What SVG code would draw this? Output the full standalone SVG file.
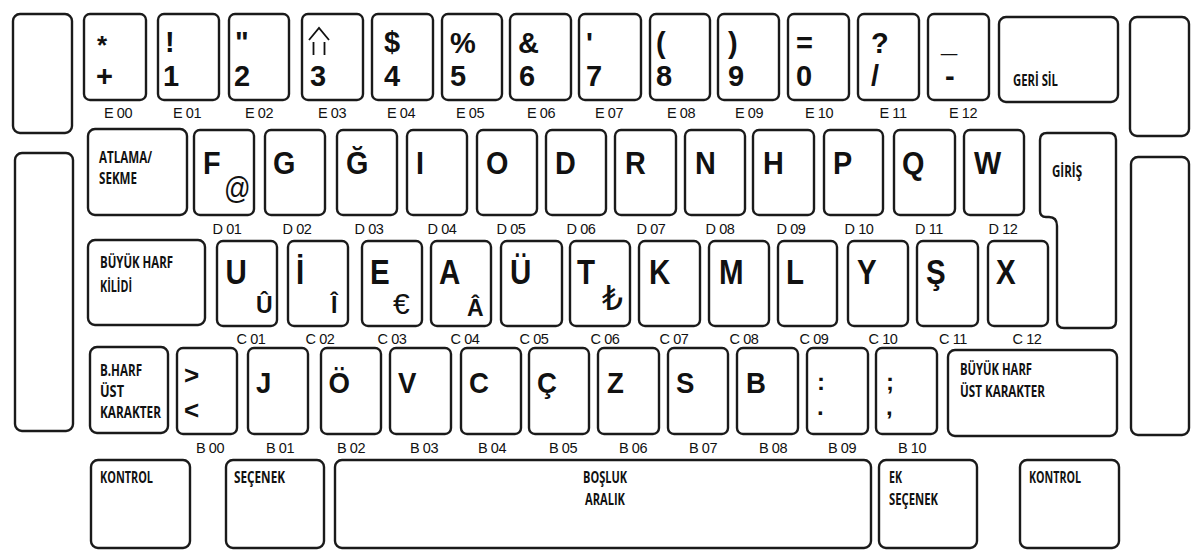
<svg xmlns="http://www.w3.org/2000/svg" width="1200" height="555" viewBox="0 0 1200 555">
<style>
.k{fill:#fff;stroke:#1a1a1a;stroke-width:2.4}
.L{font-family:"Liberation Sans",Arial,"DejaVu Sans",sans-serif;font-weight:bold;fill:#111}
.R{font-family:"Liberation Sans",Arial,"DejaVu Sans",sans-serif;font-weight:normal;fill:#111}
.e{font-size:29px}
.d{font-size:32px}
.c{font-size:36px}
.b{font-size:30px}
.s{font-size:23px}
.lbl{font-family:"Liberation Sans",Arial,sans-serif;font-size:14.5px;text-anchor:middle;fill:#111;letter-spacing:-0.4px}
.fn{font-family:"Open Sans","Liberation Sans",sans-serif;font-weight:bold;font-size:16px;fill:#111}
.ic{fill:none;stroke:#111;stroke-width:1.8}
</style>
<rect width="1200" height="555" fill="#fff"/>

<!-- side keys -->
<g id="left-top"><rect class="k" x="13" y="14" width="59" height="119" rx="7"/></g>
<g id="left-bottom"><rect class="k" x="15" y="153" width="58" height="278" rx="7"/></g>
<g id="right-top"><rect class="k" x="1130" y="17" width="59" height="119" rx="7"/></g>
<g id="right-bottom"><rect class="k" x="1131" y="157" width="58" height="278" rx="7"/></g>

<!-- Row E -->
<g id="e00"><rect class="k" x="84" y="14" width="62" height="86" rx="6"/><text class="L" style="font-size:26px" x="97" y="54">*</text><text class="L e" x="96" y="86">+</text><text class="lbl" x="118" y="118">E 00</text></g>
<g id="e01"><rect class="k" x="158" y="14" width="61" height="86" rx="6"/><text class="L e" x="165" y="52">!</text><text class="L e" x="163" y="86">1</text><text class="lbl" x="187" y="118">E 01</text></g>
<g id="e02"><rect class="k" x="229" y="14" width="60" height="86" rx="6"/><text class="L e" x="235" y="52">"</text><text class="L e" x="234" y="86">2</text><text class="lbl" x="259" y="118">E 02</text></g>
<g id="e03"><rect class="k" x="302" y="14" width="61" height="86" rx="6"/><path class="ic" d="M309,40 L319,28 L329,40 M313.5,42 V55 M324.5,42 V55"/><text class="L e" x="310" y="86">3</text><text class="lbl" x="332" y="118">E 03</text></g>
<g id="e04"><rect class="k" x="372" y="14" width="61" height="86" rx="6"/><text class="L e" x="384" y="52">$</text><text class="L e" x="384" y="86">4</text><text class="lbl" x="401" y="118">E 04</text></g>
<g id="e05"><rect class="k" x="442" y="14" width="60" height="86" rx="6"/><text class="L e" x="450" y="53">%</text><text class="L e" x="450" y="86">5</text><text class="lbl" x="470" y="118">E 05</text></g>
<g id="e06"><rect class="k" x="510" y="14" width="61" height="86" rx="6"/><text class="L e" x="518" y="53">&amp;</text><text class="L e" x="519" y="86">6</text><text class="lbl" x="541" y="118">E 06</text></g>
<g id="e07"><rect class="k" x="579" y="14" width="62" height="86" rx="6"/><text class="L e" x="586" y="53">'</text><text class="L e" x="586" y="86">7</text><text class="lbl" x="609" y="118">E 07</text></g>
<g id="e08"><rect class="k" x="650" y="14" width="60" height="86" rx="6"/><text class="L e" x="656" y="53">(</text><text class="L e" x="656" y="86">8</text><text class="lbl" x="681" y="118">E 08</text></g>
<g id="e09"><rect class="k" x="718" y="14" width="61" height="86" rx="6"/><text class="L e" x="728" y="53">)</text><text class="L e" x="728" y="86">9</text><text class="lbl" x="749" y="118">E 09</text></g>
<g id="e10"><rect class="k" x="788" y="14" width="61" height="86" rx="6"/><text class="L e" x="796" y="53">=</text><text class="L e" x="796" y="86">0</text><text class="lbl" x="819" y="118">E 10</text></g>
<g id="e11"><rect class="k" x="858" y="14" width="61" height="86" rx="6"/><text class="L e" x="871" y="53">?</text><text class="L e" x="871" y="86">/</text><text class="lbl" x="893" y="118">E 11</text></g>
<g id="e12"><rect class="k" x="928" y="14" width="61" height="86" rx="6"/><text class="L e" x="941" y="52">_</text><text class="L e" x="945" y="86">-</text><text class="lbl" x="963" y="118">E 12</text></g>
<g id="backspace"><rect class="k" x="999" y="17" width="119" height="85" rx="7"/><text class="fn" x="1013" y="86" textLength="45" lengthAdjust="spacingAndGlyphs">GERİ SİL</text></g>

<!-- Row D -->
<g id="tab"><rect class="k" x="88" y="129" width="99" height="86" rx="7"/><text class="fn" x="99" y="163" textLength="53" lengthAdjust="spacingAndGlyphs">ATLAMA/</text><text class="fn" x="99" y="184" textLength="38" lengthAdjust="spacingAndGlyphs">SEKME</text></g>
<g id="d01"><rect class="k" x="194" y="130" width="60" height="85" rx="6"/><text class="L d" transform="translate(203,174) scale(.9,1)">F</text><text class="R" style="font-size:32px" transform="translate(224,199) scale(.82,1)">@</text><text class="lbl" x="227" y="234">D 01</text></g>
<g id="d02"><rect class="k" x="265" y="130" width="60" height="85" rx="6"/><text class="L d" transform="translate(273,174) scale(.9,1)">G</text><text class="lbl" x="297" y="234">D 02</text></g>
<g id="d03"><rect class="k" x="337" y="130" width="60" height="85" rx="6"/><text class="L d" transform="translate(346,174) scale(.9,1)">Ğ</text><text class="lbl" x="369" y="234">D 03</text></g>
<g id="d04"><rect class="k" x="407" y="130" width="60" height="85" rx="6"/><text class="L d" transform="translate(416,174) scale(.9,1)">I</text><text class="lbl" x="442" y="234">D 04</text></g>
<g id="d05"><rect class="k" x="477" y="130" width="60" height="85" rx="6"/><text class="L d" transform="translate(486,174) scale(.9,1)">O</text><text class="lbl" x="511" y="234">D 05</text></g>
<g id="d06"><rect class="k" x="546" y="130" width="60" height="85" rx="6"/><text class="L d" transform="translate(555,174) scale(.9,1)">D</text><text class="lbl" x="581" y="234">D 06</text></g>
<g id="d07"><rect class="k" x="615" y="130" width="61" height="85" rx="6"/><text class="L d" transform="translate(625,174) scale(.9,1)">R</text><text class="lbl" x="651" y="234">D 07</text></g>
<g id="d08"><rect class="k" x="685" y="130" width="60" height="85" rx="6"/><text class="L d" transform="translate(695,174) scale(.9,1)">N</text><text class="lbl" x="720" y="234">D 08</text></g>
<g id="d09"><rect class="k" x="753" y="130" width="61" height="85" rx="6"/><text class="L d" transform="translate(763,174) scale(.9,1)">H</text><text class="lbl" x="791" y="234">D 09</text></g>
<g id="d10"><rect class="k" x="824" y="130" width="59" height="85" rx="6"/><text class="L d" transform="translate(833,174) scale(.9,1)">P</text><text class="lbl" x="859" y="234">D 10</text></g>
<g id="d11"><rect class="k" x="894" y="130" width="61" height="85" rx="6"/><text class="L d" transform="translate(902,174) scale(.9,1)">Q</text><text class="lbl" x="929" y="234">D 11</text></g>
<g id="d12"><rect class="k" x="964" y="130" width="60" height="85" rx="6"/><text class="L d" transform="translate(974,174) scale(.9,1)">W</text><text class="lbl" x="1003" y="234">D 12</text></g>
<g id="enter"><path class="k" d="M1047,133 H1109 Q1116,133 1116,140 V321 Q1116,328 1109,328 H1064 Q1057,328 1057,321 V226 Q1057,217 1049,217 H1046 Q1040,217 1040,211 V140 Q1040,133 1047,133 Z"/><text class="fn" x="1052" y="177" textLength="30" lengthAdjust="spacingAndGlyphs">GİRİŞ</text></g>

<!-- Row C -->
<g id="capslock"><rect class="k" x="88" y="240" width="117" height="85" rx="7"/><text class="fn" x="100" y="268" textLength="73" lengthAdjust="spacingAndGlyphs">BÜYÜK HARF</text><text class="fn" x="100" y="292" textLength="32" lengthAdjust="spacingAndGlyphs">KİLİDİ</text></g>
<g id="c01"><rect class="k" x="217" y="241" width="60" height="85" rx="6"/><text class="L c" transform="translate(225.5,284) scale(.82,1)">U</text><text class="L s" x="256" y="313">Û</text><text class="lbl" x="251" y="344">C 01</text></g>
<g id="c02"><rect class="k" x="288" y="241" width="60" height="85" rx="6"/><text class="L c" transform="translate(296,284) scale(.82,1)">İ</text><text class="L s" x="331" y="313">Î</text><text class="lbl" x="320" y="344">C 02</text></g>
<g id="c03"><rect class="k" x="362" y="241" width="60" height="85" rx="6"/><text class="L c" transform="translate(370,284) scale(.82,1)">E</text><text class="R" style="font-size:30px" x="393" y="314">€</text><text class="lbl" x="392" y="344">C 03</text></g>
<g id="c04"><rect class="k" x="431" y="241" width="60" height="85" rx="6"/><text class="L c" transform="translate(439,284) scale(.82,1)">A</text><text class="L s" x="467" y="316">Â</text><text class="lbl" x="465" y="344">C 04</text></g>
<g id="c05"><rect class="k" x="501" y="241" width="61" height="85" rx="6"/><text class="L c" transform="translate(510,284) scale(.82,1)">Ü</text><text class="lbl" x="534" y="344">C 05</text></g>
<g id="c06"><rect class="k" x="570" y="241" width="60" height="85" rx="6"/><text class="L c" transform="translate(577,284) scale(.82,1)">T</text><text class="R" style="font-size:33px" x="602" y="310">₺</text><text class="lbl" x="605" y="344">C 06</text></g>
<g id="c07"><rect class="k" x="639" y="241" width="61" height="85" rx="6"/><text class="L c" transform="translate(649,284) scale(.82,1)">K</text><text class="lbl" x="674" y="344">C 07</text></g>
<g id="c08"><rect class="k" x="709" y="241" width="60" height="85" rx="6"/><text class="L c" transform="translate(719,284) scale(.82,1)">M</text><text class="lbl" x="744" y="344">C 08</text></g>
<g id="c09"><rect class="k" x="778" y="241" width="59" height="85" rx="6"/><text class="L c" transform="translate(786,284) scale(.82,1)">L</text><text class="lbl" x="814" y="344">C 09</text></g>
<g id="c10"><rect class="k" x="848" y="241" width="60" height="85" rx="6"/><text class="L c" transform="translate(857,284) scale(.82,1)">Y</text><text class="lbl" x="883" y="344">C 10</text></g>
<g id="c11"><rect class="k" x="917" y="241" width="61" height="85" rx="6"/><text class="L c" transform="translate(926,284) scale(.82,1)">Ş</text><text class="lbl" x="953" y="344">C 11</text></g>
<g id="c12"><rect class="k" x="988" y="241" width="60" height="85" rx="6"/><text class="L c" transform="translate(996,284) scale(.82,1)">X</text><text class="lbl" x="1027" y="344">C 12</text></g>

<!-- Row B -->
<g id="lshift"><rect class="k" x="90" y="347" width="78" height="86" rx="7"/><text class="fn" x="100" y="376" textLength="42" lengthAdjust="spacingAndGlyphs">B.HARF</text><text class="fn" x="100" y="397" textLength="24" lengthAdjust="spacingAndGlyphs">ÜST</text><text class="fn" x="100" y="418" textLength="61" lengthAdjust="spacingAndGlyphs">KARAKTER</text></g>
<g id="b00"><rect class="k" x="177" y="348" width="60" height="86" rx="6"/><text class="L" style="font-size:26px" x="184" y="384">&gt;</text><text class="L" style="font-size:26px" x="184" y="419">&lt;</text><text class="lbl" x="210" y="453">B 00</text></g>
<g id="b01"><rect class="k" x="248" y="348" width="60" height="86" rx="6"/><text class="L b" transform="translate(256,393) scale(.92,1)">J</text><text class="lbl" x="280" y="453">B 01</text></g>
<g id="b02"><rect class="k" x="321" y="348" width="60" height="86" rx="6"/><text class="L b" transform="translate(328.5,393) scale(.92,1)">Ö</text><text class="lbl" x="351" y="453">B 02</text></g>
<g id="b03"><rect class="k" x="390" y="348" width="61" height="86" rx="6"/><text class="L b" transform="translate(398,393) scale(.92,1)">V</text><text class="lbl" x="424" y="453">B 03</text></g>
<g id="b04"><rect class="k" x="461" y="348" width="60" height="86" rx="6"/><text class="L b" transform="translate(469,393) scale(.92,1)">C</text><text class="lbl" x="492" y="453">B 04</text></g>
<g id="b05"><rect class="k" x="529" y="348" width="60" height="86" rx="6"/><text class="L b" transform="translate(537,393) scale(.92,1)">Ç</text><text class="lbl" x="563" y="453">B 05</text></g>
<g id="b06"><rect class="k" x="598" y="348" width="61" height="86" rx="6"/><text class="L b" transform="translate(607,393) scale(.92,1)">Z</text><text class="lbl" x="633" y="453">B 06</text></g>
<g id="b07"><rect class="k" x="668" y="348" width="60" height="86" rx="6"/><text class="L b" transform="translate(676,393) scale(.92,1)">S</text><text class="lbl" x="703" y="453">B 07</text></g>
<g id="b08"><rect class="k" x="737" y="348" width="61" height="86" rx="6"/><text class="L b" transform="translate(746,393) scale(.92,1)">B</text><text class="lbl" x="773" y="453">B 08</text></g>
<g id="b09"><rect class="k" x="807" y="348" width="61" height="86" rx="6"/><text class="L" style="font-size:24px" x="817" y="390">:</text><text class="L" style="font-size:24px" x="817" y="415">.</text><text class="lbl" x="842" y="453">B 09</text></g>
<g id="b10"><rect class="k" x="876" y="348" width="61" height="86" rx="6"/><text class="L" style="font-size:24px" x="886" y="390">;</text><text class="L" style="font-size:24px" x="886" y="415">,</text><text class="lbl" x="912" y="453">B 10</text></g>
<g id="rshift"><rect class="k" x="948" y="350" width="169" height="86" rx="7"/><text class="fn" x="960" y="375" textLength="72" lengthAdjust="spacingAndGlyphs">BÜYÜK HARF</text><text class="fn" x="960" y="397" textLength="85" lengthAdjust="spacingAndGlyphs">ÜST KARAKTER</text></g>

<!-- Bottom row -->
<g id="lctrl"><rect class="k" x="91" y="460" width="99" height="88" rx="7"/><text class="fn" x="100" y="483" textLength="53" lengthAdjust="spacingAndGlyphs">KONTROL</text></g>
<g id="lalt"><rect class="k" x="226" y="460" width="98" height="88" rx="7"/><text class="fn" x="234" y="483" textLength="51" lengthAdjust="spacingAndGlyphs">SEÇENEK</text></g>
<g id="space"><rect class="k" x="335" y="460" width="536" height="88" rx="7"/><text class="fn" x="583" y="483" textLength="44" lengthAdjust="spacingAndGlyphs">BOŞLUK</text><text class="fn" x="585" y="505" textLength="40" lengthAdjust="spacingAndGlyphs">ARALIK</text></g>
<g id="ralt"><rect class="k" x="879" y="460" width="98" height="88" rx="7"/><text class="fn" x="889" y="483" textLength="13" lengthAdjust="spacingAndGlyphs">EK</text><text class="fn" x="889" y="505" textLength="49" lengthAdjust="spacingAndGlyphs">SEÇENEK</text></g>
<g id="rctrl"><rect class="k" x="1020" y="460" width="99" height="88" rx="7"/><text class="fn" x="1029" y="483" textLength="52" lengthAdjust="spacingAndGlyphs">KONTROL</text></g>

<g id="connectors"></g>
</svg>
